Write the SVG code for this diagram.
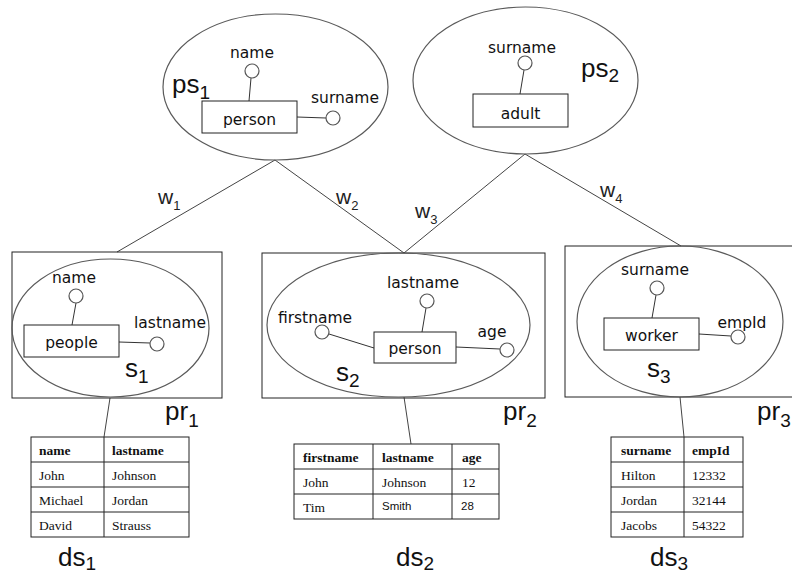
<svg xmlns="http://www.w3.org/2000/svg" width="792" height="573" viewBox="0 0 792 573">
  <style>
    .bg { fill: #ffffff; }
    .ell { fill: none; stroke: #5a5a5a; stroke-width: 1.2; }
    .frame { fill: none; stroke: #222; stroke-width: 1; }
    .ent { fill: #ffffff; stroke: #222; stroke-width: 1; }
    .att { fill: #ffffff; stroke: #555; stroke-width: 1.2; }
    .lnk { stroke: #333; stroke-width: 1; fill: none; }
    .edge { stroke: #444; stroke-width: 1; fill: none; }
    .lbl { font-family: "DejaVu Sans", sans-serif; font-size: 15.5px; fill: #111; text-anchor: middle; }
    .big { font-family: "Liberation Sans", Arial, sans-serif; font-size: 26px; fill: #111; }
    .sub { font-size: 19px; }
    .wl { font-family: "Liberation Sans", Arial, sans-serif; font-size: 21px; fill: #222; }
    .wsub { font-size: 13px; }
    .tb { fill: none; stroke: #222; stroke-width: 1; }
    .th { font-family: "Liberation Serif", "Times New Roman", serif; font-size: 13.5px; font-weight: bold; fill: #111; }
    .td { font-family: "Liberation Serif", "Times New Roman", serif; font-size: 13.5px; fill: #111; }
    .tds { font-family: "Liberation Sans", Arial, sans-serif; font-size: 11.5px; fill: #111; }
  </style>
  <rect class="bg" x="0" y="0" width="792" height="573"/>

  <!-- weighted links between mediated schemas and sources, plus source-to-data links -->
  <g id="connectors">
    <line class="edge" x1="275" y1="160" x2="117" y2="252"/>
    <line class="edge" x1="275" y1="160" x2="404" y2="253"/>
    <line class="edge" x1="525" y1="154" x2="404" y2="253"/>
    <line class="edge" x1="525" y1="154" x2="681" y2="246"/>
    <line class="edge" x1="110" y1="398" x2="104" y2="437"/>
    <line class="edge" x1="404" y1="397" x2="411" y2="444"/>
    <line class="edge" x1="680" y1="397" x2="684" y2="437"/>
    <text class="wl" x="158" y="204">w<tspan class="wsub" dy="6">1</tspan></text>
    <text class="wl" x="336" y="204">w<tspan class="wsub" dy="6">2</tspan></text>
    <text class="wl" x="415" y="218">w<tspan class="wsub" dy="6">3</tspan></text>
    <text class="wl" x="600" y="197">w<tspan class="wsub" dy="6">4</tspan></text>
  </g>

  <!-- mediated schema ps1 -->
  <g id="ps1">
    <ellipse class="ell" cx="275.5" cy="87" rx="112.5" ry="73"/>
    <line class="lnk" x1="251" y1="78" x2="249" y2="101"/>
    <line class="lnk" x1="297" y1="117" x2="326" y2="118"/>
    <rect class="ent" x="202" y="101" width="95" height="32"/>
    <circle class="att" cx="252" cy="71" r="7"/>
    <circle class="att" cx="333" cy="118" r="7"/>
    <text class="lbl" x="252" y="58">name</text>
    <text class="lbl" x="345" y="103">surname</text>
    <text class="lbl" x="249.5" y="125">person</text>
    <text class="big" x="172" y="93">ps<tspan class="sub" dy="6">1</tspan></text>
  </g>

  <!-- mediated schema ps2 -->
  <g id="ps2">
    <ellipse class="ell" cx="525.5" cy="80.5" rx="112.5" ry="73.5"/>
    <line class="lnk" x1="524" y1="70" x2="520" y2="94"/>
    <rect class="ent" x="473" y="94" width="95" height="33"/>
    <circle class="att" cx="525" cy="63" r="7"/>
    <text class="lbl" x="522" y="53">surname</text>
    <text class="lbl" x="520.5" y="119">adult</text>
    <text class="big" x="581" y="77">ps<tspan class="sub" dy="5">2</tspan></text>
  </g>

  <!-- source s1 inside pr1 -->
  <g id="pr1">
    <rect class="frame" x="12" y="252" width="210" height="146"/>
    <ellipse class="ell" cx="110.5" cy="328" rx="98.5" ry="69"/>
    <line class="lnk" x1="76" y1="303" x2="72" y2="325"/>
    <line class="lnk" x1="119" y1="342" x2="150" y2="343"/>
    <rect class="ent" x="24" y="325" width="95" height="32"/>
    <circle class="att" cx="76" cy="296" r="7"/>
    <circle class="att" cx="157" cy="344" r="7"/>
    <text class="lbl" x="74" y="283">name</text>
    <text class="lbl" x="170" y="328">lastname</text>
    <text class="lbl" x="71.5" y="348">people</text>
    <text class="big" x="125" y="377">s<tspan class="sub" dy="6">1</tspan></text>
    <text class="big" x="165" y="420">pr<tspan class="sub" dy="7">1</tspan></text>
  </g>

  <!-- source s2 inside pr2 -->
  <g id="pr2">
    <rect class="frame" x="262" y="253" width="283" height="145"/>
    <ellipse class="ell" cx="398.5" cy="325" rx="131.5" ry="72"/>
    <line class="lnk" x1="426" y1="308" x2="422" y2="332"/>
    <line class="lnk" x1="329" y1="334" x2="374" y2="348"/>
    <line class="lnk" x1="456" y1="347" x2="500" y2="349"/>
    <rect class="ent" x="374" y="332" width="82" height="31"/>
    <circle class="att" cx="427" cy="301" r="7"/>
    <circle class="att" cx="322" cy="332" r="7"/>
    <circle class="att" cx="507" cy="350" r="7"/>
    <text class="lbl" x="423" y="288">lastname</text>
    <text class="lbl" x="315" y="323">firstname</text>
    <text class="lbl" x="492" y="337">age</text>
    <text class="lbl" x="415" y="354">person</text>
    <text class="big" x="336" y="381">s<tspan class="sub" dy="6">2</tspan></text>
    <text class="big" x="503" y="420">pr<tspan class="sub" dy="7">2</tspan></text>
  </g>

  <!-- source s3 inside pr3 -->
  <g id="pr3">
    <rect class="frame" x="565" y="246" width="232" height="151"/>
    <ellipse class="ell" cx="680" cy="321.5" rx="103" ry="75.5"/>
    <line class="lnk" x1="656" y1="295" x2="652" y2="318"/>
    <line class="lnk" x1="699" y1="334" x2="731" y2="336"/>
    <rect class="ent" x="604" y="318" width="95" height="32"/>
    <circle class="att" cx="657" cy="288" r="7"/>
    <circle class="att" cx="738" cy="337" r="7"/>
    <text class="lbl" x="655" y="275">surname</text>
    <text class="lbl" x="742" y="328">empId</text>
    <text class="lbl" x="651.5" y="341">worker</text>
    <text class="big" x="647" y="377">s<tspan class="sub" dy="6">3</tspan></text>
    <text class="big" x="757" y="420">pr<tspan class="sub" dy="7">3</tspan></text>
  </g>

  <!-- data source ds1 -->
  <g id="ds1">
    <rect class="tb" x="31" y="437" width="158" height="100"/>
    <line class="tb" x1="104" y1="437" x2="104" y2="537"/>
    <line class="tb" x1="31" y1="462" x2="189" y2="462"/>
    <line class="tb" x1="31" y1="487" x2="189" y2="487"/>
    <line class="tb" x1="31" y1="512" x2="189" y2="512"/>
    <text class="th" x="39" y="455">name</text>
    <text class="th" x="112" y="455">lastname</text>
    <text class="td" x="39" y="479.5">John</text>
    <text class="td" x="112" y="479.5">Johnson</text>
    <text class="td" x="39" y="504.5">Michael</text>
    <text class="td" x="112" y="504.5">Jordan</text>
    <text class="td" x="39" y="529.5">David</text>
    <text class="td" x="112" y="529.5">Strauss</text>
    <text class="big" x="58" y="566">ds<tspan class="sub" dy="4">1</tspan></text>
  </g>

  <!-- data source ds2 -->
  <g id="ds2">
    <rect class="tb" x="294" y="444" width="205" height="75"/>
    <line class="tb" x1="373" y1="444" x2="373" y2="519"/>
    <line class="tb" x1="452" y1="444" x2="452" y2="519"/>
    <line class="tb" x1="294" y1="469" x2="499" y2="469"/>
    <line class="tb" x1="294" y1="494" x2="499" y2="494"/>
    <text class="th" x="303" y="461.5">firstname</text>
    <text class="th" x="382" y="461.5">lastname</text>
    <text class="th" x="462" y="461.5">age</text>
    <text class="td" x="303" y="486.5">John</text>
    <text class="td" x="382" y="486.5">Johnson</text>
    <text class="td" x="462" y="486.5">12</text>
    <text class="td" x="303" y="511.5">Tim</text>
    <text class="tds" x="382" y="510">Smith</text>
    <text class="tds" x="461" y="510">28</text>
    <text class="big" x="396" y="566">ds<tspan class="sub" dy="4">2</tspan></text>
  </g>

  <!-- data source ds3 -->
  <g id="ds3">
    <rect class="tb" x="611" y="437" width="132" height="100"/>
    <line class="tb" x1="684" y1="437" x2="684" y2="537"/>
    <line class="tb" x1="611" y1="462" x2="743" y2="462"/>
    <line class="tb" x1="611" y1="487" x2="743" y2="487"/>
    <line class="tb" x1="611" y1="512" x2="743" y2="512"/>
    <text class="th" x="621" y="455">surname</text>
    <text class="th" x="692" y="455">empId</text>
    <text class="td" x="621" y="479.5">Hilton</text>
    <text class="td" x="692" y="479.5">12332</text>
    <text class="td" x="621" y="504.5">Jordan</text>
    <text class="td" x="692" y="504.5">32144</text>
    <text class="td" x="621" y="529.5">Jacobs</text>
    <text class="td" x="692" y="529.5">54322</text>
    <text class="big" x="650" y="566">ds<tspan class="sub" dy="4">3</tspan></text>
  </g>
</svg>
